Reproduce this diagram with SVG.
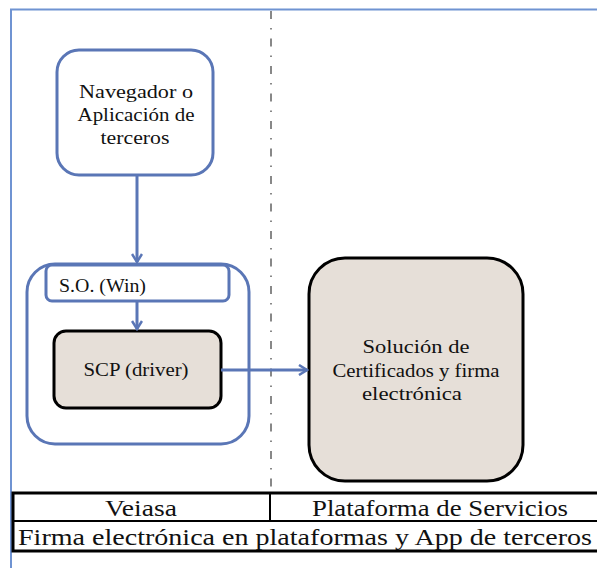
<svg xmlns="http://www.w3.org/2000/svg" width="597" height="568" viewBox="0 0 597 568">
<defs>
<style>
.t{font-family:"Liberation Serif","DejaVu Serif",serif;fill:#111;}
.n{font-size:18px;text-anchor:middle;}
.f{font-size:23px;}
.b{fill:#fff;stroke:#5a76b6;stroke-width:3;}
.g{fill:#e6dfd8;stroke:#000;stroke-width:3;}
.c{fill:none;stroke:#5a76b6;stroke-width:3;}
</style>
<marker id="ah" viewBox="0 0 12 12" refX="10" refY="6" markerWidth="12" markerHeight="12" markerUnits="userSpaceOnUse" orient="auto">
<path d="M2,1 L10,6 L2,11" fill="none" stroke="#5a76b6" stroke-width="2.5"/>
</marker>
</defs>
<rect width="597" height="568" fill="#fff"/>
<g id="frame">
<path d="M11,568 V9.5 H597" fill="none" stroke="#6f93d2" stroke-width="2"/>
<line x1="271" y1="11" x2="271" y2="492" stroke="#888" stroke-width="2" stroke-dasharray="8,9,1.5,9"/>
</g>
<g id="navegador">
<rect class="b" x="57" y="50" width="156" height="125" rx="22"/>
<text class="t n" x="136" y="98" textLength="114" lengthAdjust="spacingAndGlyphs">Navegador o</text>
<text class="t n" x="136" y="121" textLength="117" lengthAdjust="spacingAndGlyphs">Aplicación de</text>
<text class="t n" x="135" y="144" textLength="69" lengthAdjust="spacingAndGlyphs">terceros</text>
</g>
<g id="so-container">
<rect class="b" x="27" y="264" width="222" height="180" rx="28"/>
</g>
<g id="so-win">
<rect class="b" x="46" y="265" width="183" height="36" rx="6"/>
<text class="t" x="59" y="292" font-size="18" textLength="87" lengthAdjust="spacingAndGlyphs">S.O. (Win)</text>
</g>
<g id="scp">
<rect class="g" x="54" y="331" width="167" height="77" rx="12"/>
<text class="t n" x="136" y="376" textLength="105" lengthAdjust="spacingAndGlyphs">SCP (driver)</text>
</g>
<g id="solucion">
<rect class="g" x="309" y="258" width="214" height="223" rx="36"/>
<text class="t n" x="416" y="353" textLength="107" lengthAdjust="spacingAndGlyphs">Solución de</text>
<text class="t n" x="416" y="377" textLength="167" lengthAdjust="spacingAndGlyphs">Certificados y firma</text>
<text class="t n" x="412" y="400" textLength="100" lengthAdjust="spacingAndGlyphs">electrónica</text>
</g>
<g id="connectors">
<line class="c" x1="137" y1="175" x2="137" y2="262" marker-end="url(#ah)"/>
<line class="c" x1="137" y1="301" x2="137" y2="329" marker-end="url(#ah)"/>
<line class="c" x1="221" y1="370" x2="307" y2="370" marker-end="url(#ah)"/>
</g>
<g id="table">
<rect x="13" y="493" width="590" height="58" fill="#fff" stroke="#000" stroke-width="3"/>
<line x1="13" y1="521" x2="600" y2="521" stroke="#000" stroke-width="2"/>
<line x1="270" y1="493" x2="270" y2="521" stroke="#000" stroke-width="2"/>
<text class="t f" x="141" y="516" text-anchor="middle" textLength="72" lengthAdjust="spacingAndGlyphs">Veiasa</text>
<text class="t f" x="440" y="516" text-anchor="middle" textLength="256" lengthAdjust="spacingAndGlyphs">Plataforma de Servicios</text>
<text class="t f" x="18" y="545" textLength="574" lengthAdjust="spacingAndGlyphs">Firma electrónica en plataformas y App de terceros</text>
</g>
</svg>
